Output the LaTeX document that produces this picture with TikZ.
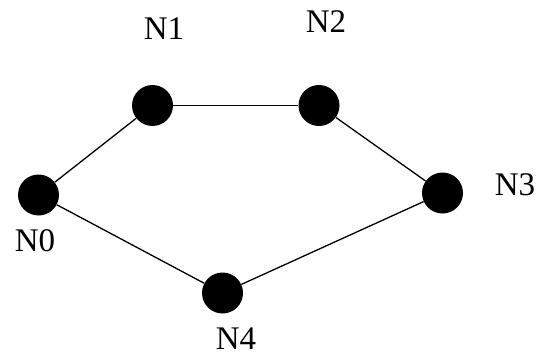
\documentclass[tikz,border=0pt]{standalone}
\usepackage{fontspec}
\setmainfont{Liberation Serif}
\begin{document}
\begin{tikzpicture}[x=1pt,y=-1pt,
  dot/.style={circle,fill=black,draw=none,minimum size=41pt,inner sep=0pt},
  lab/.style={inner sep=0pt,font=\fontsize{33}{40}\selectfont},
  link/.style={line width=1.3pt,black}]
\useasboundingbox (0,0) rectangle (541,356);
\node[dot] (n0) at (38.5,195) {};
\node[dot] (n1) at (152.5,105.5) {};
\node[dot] (n2) at (319,105.5) {};
\node[dot] (n3) at (442.5,193) {};
\node[dot] (n4) at (222.5,293) {};
\node[lab] (l0) at (35,241) {N0};
\node[lab] (l1) at (164,29) {N1};
\node[lab] (l2) at (326,21.5) {N2};
\node[lab] (l3) at (515,185) {N3};
\node[lab] (l4) at (236,338.5) {N4};
\draw[link] (n0) -- (n1);
\draw[link] (n1) -- (n2);
\draw[link] (n2) -- (n3);
\draw[link] (n3) -- (n4);
\draw[link] (n4) -- (n0);
\end{tikzpicture}
\end{document}
